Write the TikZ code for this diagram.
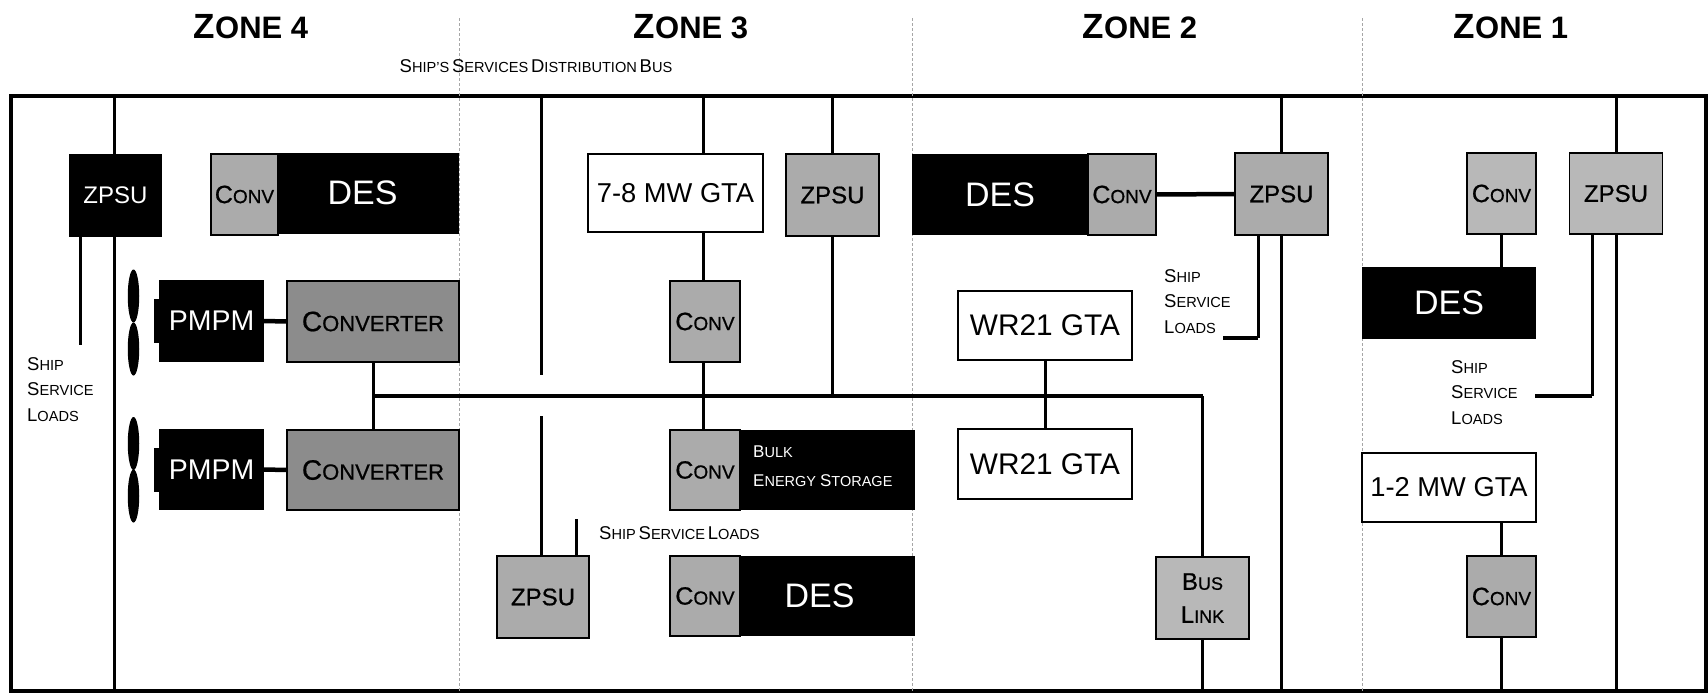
\documentclass[tikz,border=0pt]{standalone}
\usepackage{xcolor}
\usepackage{fontspec}
\setmainfont{Liberation Sans}
\newfontfamily\heavyfont{Liberation Sans}[FakeBold=0.7]
\usetikzlibrary{shapes.geometric}

% Small caps drawn with two sizes: big, small, first letter, the rest
\newcommand{\smcp}[4]{{\fontsize{#1}{#1}\selectfont #3}{\fontsize{#2}{#2}\selectfont #4}}
\newcommand{\lblsc}[2]{\smcp{18.5}{14.6}{#1}{#2}}
\newcommand{\convsc}{\smcp{25}{19}{C}{ONV}}
\newcommand{\convertersc}{\smcp{28}{22}{C}{ONVERTER}}

\begin{document}
\begin{tikzpicture}[
    x=1pt,
    y=-1pt,
    box/.style={rectangle, inner sep=0pt, outer sep=0pt, align=center},
    greybox/.style={box, draw=black, line width=1.5pt, fill=black!33, minimum width=#1, font=\heavyfont},
    greybox/.default=93,
    whitebox/.style={box, draw=black, line width=1.8pt, fill=white},
    blackbox/.style={box, fill=black, text=white},
    prop/.style={ellipse, fill=black, inner sep=0pt, minimum width=11.5, minimum height=53},
    bus/.style={black, line width=3pt},
    busthick/.style={black, line width=4.5pt},
    divider/.style={gray!70, line width=0.6pt, densely dashed},
    zonetitle/.style={inner sep=0pt, font=\bfseries},
    txtlabel/.style={inner sep=0pt, anchor=west, align=left, font=\fontsize{14}{25.7}\selectfont},
    gtatxt/.style={font=\fontsize{27.3}{27.3}\selectfont},
    destxt/.style={font=\fontsize{34}{34}\selectfont}
]

    \useasboundingbox (0,0) rectangle (1708,694);

    % Coordinates
    \coordinate (divC) at (459, 18);
    \coordinate (divB) at (912, 18);
    \coordinate (divA) at (1362, 18);
    \coordinate (busD)   at (114, 237);
    \coordinate (loadD)  at (80, 345);
    \coordinate (gapTop) at (541, 375);
    \coordinate (gapBot) at (541, 416);
    \coordinate (busC)   at (703, 232);
    \coordinate (loadC)  at (576, 519);
    \coordinate (loadB)  at (1223, 338);
    \coordinate (loadA)  at (1535, 396);
    \coordinate (feedB)  at (1258, 338);
    \coordinate (feedA)  at (1592, 396);

    % Outer bus
    \node[box, minimum width=1695, minimum height=595, draw=black, line width=3.5pt] (frame) at (858.5, 393.5) {};

    % Zone dividers
    \draw[divider] (divC) -- (divC |- frame.south);
    \draw[divider] (divB) -- (divB |- frame.south);
    \draw[divider] (divA) -- (divA |- frame.south);

    % Zone titles
    \node[zonetitle] (zoneD) at (251, 27) {\smcp{35}{31}{Z}{ONE 4}};
    \node[zonetitle] (zoneC) at (691, 27) {\smcp{35}{31}{Z}{ONE 3}};
    \node[zonetitle] (zoneB) at (1140, 27) {\smcp{35}{31}{Z}{ONE 2}};
    \node[zonetitle] (zoneA) at (1511, 27) {\smcp{35}{31}{Z}{ONE 1}};
    \node[inner sep=0pt] (busname) at (536, 66) {\lblsc{S}{HIP'S} \lblsc{S}{ERVICES} \lblsc{D}{ISTRIBUTION} \lblsc{B}{US}};

    % Zone 4
    \node[blackbox, minimum width=93, minimum height=83, font=\fontsize{24}{24}\selectfont] (zpsuD) at (115.5, 195.5) {ZPSU};
    \node[greybox=67, minimum height=81] (convD) at (244.5, 194.5) {\convsc};
    \node[blackbox, minimum width=181, minimum height=81, destxt] (desD) at (368.5, 193) {DES\hspace{12pt}};
    \node[blackbox, minimum width=105, minimum height=82, font=\fontsize{28.5}{28.5}\selectfont] (pmpmA) at (211.5, 321) {PMPM};
    \node[blackbox, minimum width=105, minimum height=81, font=\fontsize{28.5}{28.5}\selectfont] (pmpmB) at (211.5, 469.5) {PMPM};
    \node[blackbox, minimum width=5, minimum height=44, anchor=east] (notchA) at (pmpmA.west) {};
    \node[blackbox, minimum width=5, minimum height=44, anchor=east] (notchB) at (pmpmB.west) {};
    \node[greybox=172, fill=black!45, minimum height=81] (cvtA) at (373, 321.5) {\convertersc};
    \node[greybox=172, fill=black!45, minimum height=80] (cvtB) at (373, 470) {\convertersc};
    \node[prop] (propA) at (133.5, 296) {};
    \node[prop] (propB) at (133.5, 349) {};
    \node[prop] (propC) at (133.5, 443.5) {};
    \node[prop] (propD) at (133.5, 496) {};
    \node[txtlabel] (loadsD) at (27, 389.5) {\lblsc{S}{HIP}\\\lblsc{S}{ERVICE}\\\lblsc{L}{OADS}};

    \draw[bus] (busD |- zpsuD.north) -- (frame.north -| busD);
    \draw[bus] (busD) -- (frame.south -| busD);
    \draw[bus] (loadD |- zpsuD.south) -- (loadD);
    \draw[busthick] (pmpmA.east) -- (cvtA.west);
    \draw[busthick] (pmpmB.east) -- (cvtB.west);
    \draw[bus] (cvtA.south) -- (cvtB.north);

    % Zone 3
    \node[whitebox, minimum width=175, minimum height=78, gtatxt] (gtaC) at (675.5, 193) {7-8 MW GTA};
    \node[greybox, minimum height=82] (zpsuCa) at (832.5, 195) {\fontsize{24}{24}\selectfont ZPSU};
    \node[greybox=70, minimum height=81] (convCa) at (705, 321.5) {\convsc};
    \node[greybox=70, minimum height=80] (convCb) at (705, 470) {\convsc};
    \node[blackbox, minimum width=175, minimum height=80, anchor=west] (bulk) at (convCb.east) {};
    \node[txtlabel, text=white, font=\fontsize{14.5}{29}\selectfont] (bulktxt) at (753, 466.5) {\smcp{17}{14.5}{B}{ULK}\\\smcp{17}{14.5}{E}{NERGY} \smcp{17}{14.5}{S}{TORAGE}};
    \node[greybox=92, minimum height=82] (zpsuCb) at (543, 597) {\fontsize{24}{24}\selectfont ZPSU};
    \node[greybox=70, minimum height=80] (convCc) at (705, 596) {\convsc};
    \node[blackbox, minimum width=175, minimum height=80, anchor=west, destxt] (desC) at (convCc.east) {DES\hspace{16pt}};
    \node[inner sep=0pt, anchor=west] (loadsC) at (599, 533) {\lblsc{S}{HIP} \lblsc{S}{ERVICE} \lblsc{L}{OADS}};

    \draw[bus] (frame.north -| gapTop) -- (gapTop);
    \draw[bus] (gapBot) -- (gapBot |- zpsuCb.north);
    \draw[bus] (loadC) -- (loadC |- zpsuCb.north);
    \draw[bus] (frame.north -| busC) -- (busC |- gtaC.north);
    \draw[bus] (busC |- gtaC.south) -- (busC |- convCa.north);
    \draw[bus] (busC |- convCa.south) -- (busC |- convCb.north);
    \draw[bus] (frame.north -| zpsuCa.north) -- (zpsuCa.north);

    % Zone 2
    \node[blackbox, minimum width=176, minimum height=81, destxt] (desB) at (1000, 194.5) {DES};
    \node[greybox=68, minimum height=81] (convB) at (1122, 194.5) {\convsc};
    \node[greybox, minimum height=82] (zpsuB) at (1281.5, 194) {\fontsize{24}{24}\selectfont ZPSU};
    \node[whitebox, minimum width=174, minimum height=69, font=\fontsize{29.8}{29.8}\selectfont] (gtaBa) at (1045, 325.5) {WR21 GTA};
    \node[whitebox, minimum width=174, minimum height=70, font=\fontsize{29.8}{29.8}\selectfont] (gtaBb) at (1045, 464) {WR21 GTA};
    \node[greybox, minimum height=82, fill=black!28, font=\heavyfont\fontsize{18}{33}\selectfont] (buslink) at (1202.5, 598) {\smcp{24}{18}{B}{US}\\\smcp{24}{18}{L}{INK}};
    \node[txtlabel] (loadsB) at (1164, 301.5) {\lblsc{S}{HIP}\\\lblsc{S}{ERVICE}\\\lblsc{L}{OADS}};

    \draw[busthick] (convB.east) -- (zpsuB.west);
    \draw[bus] (frame.north -| zpsuB.north) -- (zpsuB.north);
    \draw[bus] (zpsuB.south) -- (frame.south -| zpsuB.south);
    \draw[bus] (feedB |- zpsuB.south) -- (feedB);
    \draw[busthick] (feedB) -- (loadB);
    \draw[bus] (gtaBa.south) -- (gtaBb.north);
    \draw[bus] (buslink.south) -- (frame.south -| buslink.south);

    % Zone 1
    \node[greybox=69, minimum height=81, fill=black!28] (convAa) at (1501.5, 193.5) {\convsc};
    \node[greybox, minimum height=81, fill=black!28] (zpsuA) at (1616, 193.5) {\fontsize{24}{24}\selectfont ZPSU};
    \node[blackbox, minimum width=174, minimum height=72, destxt] (desA) at (1449, 302.5) {DES};
    \node[whitebox, minimum width=174, minimum height=69, gtatxt] (gtaA) at (1449, 487.5) {1-2 MW GTA};
    \node[greybox=69, minimum height=81] (convAb) at (1501.5, 596.5) {\convsc};
    \node[txtlabel] (loadsA) at (1451, 392.5) {\lblsc{S}{HIP}\\\lblsc{S}{ERVICE}\\\lblsc{L}{OADS}};

    \draw[bus] (convAa.south) -- (convAa.south |- desA.north);
    \draw[bus] (frame.north -| zpsuA.north) -- (zpsuA.north);
    \draw[bus] (zpsuA.south) -- (frame.south -| zpsuA.south);
    \draw[bus] (feedA |- zpsuA.south) -- (feedA);
    \draw[busthick] (feedA) -- (loadA);
    \draw[bus] (convAb.north |- gtaA.south) -- (convAb.north);
    \draw[bus] (convAb.south) -- (frame.south -| convAb.south);

    % Cross-zone link
    \coordinate (linkL) at (cvtA.south |- 0, 396);
    \coordinate (linkR) at (buslink.north |- 0, 396);
    \draw[busthick] (linkL) -- (linkR);
    \draw[bus] (linkR) -- (buslink.north);
    \draw[bus] (zpsuCa.south) -- (zpsuCa.south |- linkL);

\end{tikzpicture}
\end{document}
